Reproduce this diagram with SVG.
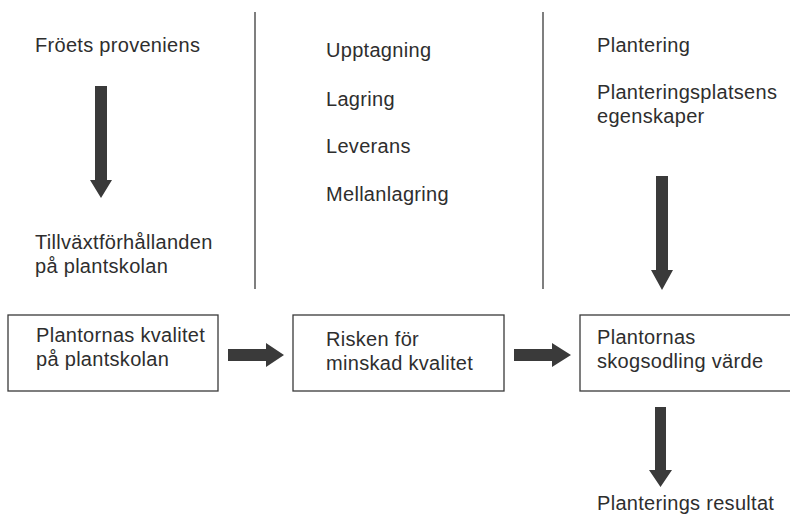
<svg xmlns="http://www.w3.org/2000/svg" width="790" height="517" viewBox="0 0 790 517">
<style>
  text { font-family: "Liberation Sans", Arial, sans-serif; font-size: 20px; fill: #2e2e2e; letter-spacing: 0.3px; }
  .box { fill: #ffffff; stroke: #3a3a3a; stroke-width: 1.3; }
  .sep { stroke: #555555; stroke-width: 1.5; }
  .arrow { fill: #3a3a3a; }
</style>
<rect width="790" height="517" fill="#ffffff"/>
<g id="separators">
  <line class="sep" x1="255" y1="12" x2="255" y2="289"/>
  <line class="sep" x1="543" y1="12" x2="543" y2="289"/>
</g>
<g id="col1">
  <text x="35" y="52">Fröets proveniens</text>
  <text x="35" y="249">Tillväxtförhållanden</text>
  <text x="35" y="273">på plantskolan</text>
</g>
<g id="col2">
  <text x="326" y="57">Upptagning</text>
  <text x="326" y="106">Lagring</text>
  <text x="326" y="153">Leverans</text>
  <text x="326" y="201">Mellanlagring</text>
</g>
<g id="col3">
  <text x="597" y="52">Plantering</text>
  <text x="597" y="99">Planteringsplatsens</text>
  <text x="597" y="123">egenskaper</text>
</g>
<g id="node1">
  <rect class="box" x="8" y="315" width="210" height="76"/>
  <text x="36" y="342">Plantornas kvalitet</text>
  <text x="36" y="366">på plantskolan</text>
</g>
<g id="node2">
  <rect class="box" x="293" y="315" width="211" height="76"/>
  <text x="326" y="346">Risken för</text>
  <text x="326" y="370">minskad kvalitet</text>
</g>
<g id="node3">
  <rect class="box" x="580" y="315" width="215" height="76"/>
  <text x="597" y="344">Plantornas</text>
  <text x="597" y="368">skogsodling värde</text>
</g>
<g id="node4">
  <text x="597" y="510">Planterings resultat</text>
</g>
<g id="connectors">
  <polygon class="arrow" points="95,86 107,86 107,180 112,180 101,198 90,180 95,180"/>
  <polygon class="arrow" points="656,176 668,176 668,270 673,270 662,290 651,270 656,270"/>
  <polygon class="arrow" points="655,407 666,407 666,470 672,470 660.5,487 649,470 655,470"/>
  <polygon class="arrow" points="228,349 266,349 266,343 284,355 266,367 266,361 228,361"/>
  <polygon class="arrow" points="514,349 552,349 552,343 571,355 552,367 552,361 514,361"/>
</g>
</svg>
